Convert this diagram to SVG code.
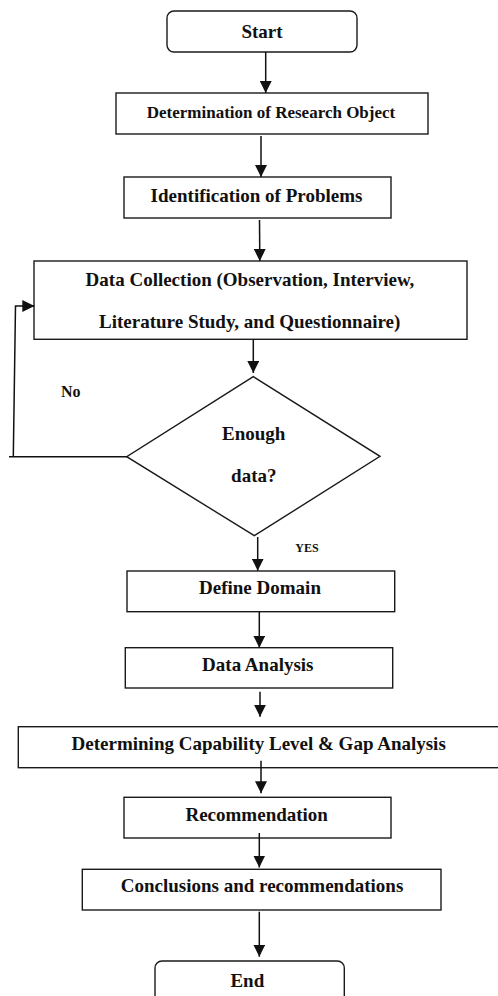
<svg xmlns="http://www.w3.org/2000/svg" width="498" height="996" viewBox="0 0 498 996">
<style>
.box{fill:#fff;stroke:#1a1a1a;stroke-width:1.4}
.t{font-family:"Liberation Serif","Times New Roman",serif;font-weight:bold;font-size:19px;fill:#111;text-anchor:middle}
.c{fill:none;stroke:#111;stroke-width:1.5}
</style>
<defs>
<marker id="ah" markerUnits="userSpaceOnUse" markerWidth="12" markerHeight="12" viewBox="0 0 11 11" refX="11" refY="5.5" orient="auto">
<path d="M0,0 L11,5.5 L0,11 z" fill="#111"/>
</marker>
</defs>
<rect width="498" height="996" fill="#fff"/>
<g id="start"><rect class="box" x="167" y="11" width="190" height="41" rx="7"/><text class="t" x="262" y="37.5">Start</text></g>
<g id="research-object"><rect class="box" x="116" y="93" width="312" height="41"/><text class="t" x="271" y="118.3" style="font-size:17px">Determination of Research Object</text></g>
<g id="problems"><rect class="box" x="124" y="177" width="267" height="41"/><text class="t" x="256.5" y="202.3">Identification of Problems</text></g>
<g id="data-collection"><rect class="box" x="34" y="261" width="433" height="78.3"/><text class="t" x="250" y="286">Data Collection (Observation, Interview,</text><text class="t" x="249.7" y="327.5">Literature Study, and Questionnaire)</text></g>
<g id="decision"><polygon class="box" points="253.3,376.7 380,456.3 254.3,535.7 126.7,456.7"/><text class="t" x="253.7" y="440">Enough</text><text class="t" x="253.8" y="481.7">data?</text></g>
<g id="define-domain"><rect class="box" x="127" y="571" width="267.7" height="40.7"/><text class="t" x="260" y="594.3">Define Domain</text></g>
<g id="data-analysis"><rect class="box" x="125.3" y="647.7" width="267.4" height="40.3"/><text class="t" x="257.8" y="670.7">Data Analysis</text></g>
<g id="capability"><rect class="box" x="18.3" y="726.7" width="500" height="41"/><text class="t" x="258.7" y="750">Determining Capability Level &amp; Gap Analysis</text></g>
<g id="recommendation"><rect class="box" x="124" y="797.3" width="267" height="40.7"/><text class="t" x="256.7" y="820.7">Recommendation</text></g>
<g id="conclusions"><rect class="box" x="82.3" y="869.3" width="358.7" height="40.7"/><text class="t" x="262" y="892.3">Conclusions and recommendations</text></g>
<g id="end"><rect class="box" x="155" y="961" width="189.3" height="60" rx="7"/><text class="t" x="247.3" y="987.3">End</text></g>
<g id="connectors">
<line class="c" x1="265.7" y1="52" x2="265.7" y2="93" marker-end="url(#ah)"/>
<line class="c" x1="261" y1="136" x2="261" y2="177" marker-end="url(#ah)"/>
<line class="c" x1="259.5" y1="220" x2="259.8" y2="261" marker-end="url(#ah)"/>
<line class="c" x1="253.3" y1="339.3" x2="253.3" y2="373" marker-end="url(#ah)"/>
<line class="c" x1="127" y1="456.7" x2="9" y2="456.7"/>
<path class="c" d="M13.3,456.7 L15.5,306 H34.3" marker-end="url(#ah)"/>
<line class="c" x1="257.7" y1="537" x2="257.7" y2="570.7" marker-end="url(#ah)"/>
<line class="c" x1="259.3" y1="611.7" x2="259.3" y2="647.7" marker-end="url(#ah)"/>
<line class="c" x1="260" y1="691.7" x2="260" y2="716.7" marker-end="url(#ah)"/>
<line class="c" x1="261" y1="760.7" x2="261" y2="793.3" marker-end="url(#ah)"/>
<line class="c" x1="259.3" y1="833" x2="259.3" y2="867.5" marker-end="url(#ah)"/>
<line class="c" x1="259.3" y1="911.7" x2="259.3" y2="956.7" marker-end="url(#ah)"/>
<text class="t" x="70.8" y="396.7" style="font-size:16px">No</text>
<text class="t" x="307" y="552.3" style="font-size:12px">YES</text>
</g>
</svg>
